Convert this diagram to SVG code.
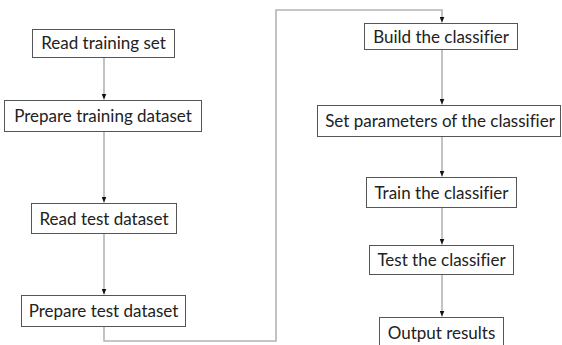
<svg xmlns="http://www.w3.org/2000/svg" width="562" height="345" viewBox="0 0 562 345">
<style>
.box{fill:#fff;stroke:#555;stroke-width:1}
.lbl{font-family:Lato,"Open Sans","Liberation Sans",sans-serif;font-size:17px;fill:#222;text-anchor:middle;font-variant-ligatures:none}
.conn{fill:none;stroke:#b4b4b4;stroke-width:1.6}
</style>
<defs>
<marker id="ah" markerWidth="6" markerHeight="5" refX="6" refY="2.5" orient="auto" markerUnits="userSpaceOnUse">
<path d="M0,0 L6,2.5 L0,5 Z" fill="#111"/>
</marker>
</defs>
<rect width="562" height="345" fill="#fff"/>
<g id="connectors">
<path class="conn" d="M104,57 V99.5" marker-end="url(#ah)"/>
<path class="conn" d="M104,132 V202.5" marker-end="url(#ah)"/>
<path class="conn" d="M104,233 V294.5" marker-end="url(#ah)"/>
<path class="conn" d="M104,326 V341 H276 V10 H442 V22.5" marker-end="url(#ah)"/>
<path class="conn" d="M442,49 V104.5" marker-end="url(#ah)"/>
<path class="conn" d="M442,136 V176.5" marker-end="url(#ah)"/>
<path class="conn" d="M442,207 V244.5" marker-end="url(#ah)"/>
<path class="conn" d="M442,274 V316.5" marker-end="url(#ah)"/>
</g>
<g id="n1"><rect class="box" x="32.5" y="29.5" width="142" height="28"/><text class="lbl" x="103.5" y="49">Read training set</text></g>
<g id="n2"><rect class="box" x="4.5" y="100.5" width="197" height="31"/><text class="lbl" x="103" y="122">Prepare training dataset</text></g>
<g id="n3"><rect class="box" x="31.5" y="203.5" width="145" height="30"/><text class="lbl" x="104" y="224.5">Read test dataset</text></g>
<g id="n4"><rect class="box" x="21.5" y="295.5" width="164" height="31"/><text class="lbl" x="103.5" y="317">Prepare test dataset</text></g>
<g id="n5"><rect class="box" x="364.5" y="23.5" width="153" height="26"/><text class="lbl" x="441" y="42.5">Build the classifier</text></g>
<g id="n6"><rect class="box" x="317.5" y="105.5" width="243" height="31"/><text class="lbl" x="440" y="127">Set parameters of the classifier</text></g>
<g id="n7"><rect class="box" x="366.5" y="177.5" width="150" height="30"/><text class="lbl" x="441.5" y="198.5">Train the classifier</text></g>
<g id="n8"><rect class="box" x="369.5" y="245.5" width="144" height="29"/><text class="lbl" x="441.5" y="266">Test the classifier</text></g>
<g id="n9"><rect class="box" x="379.5" y="317.5" width="124" height="34"/><text class="lbl" x="441.5" y="339">Output results</text></g>
</svg>
